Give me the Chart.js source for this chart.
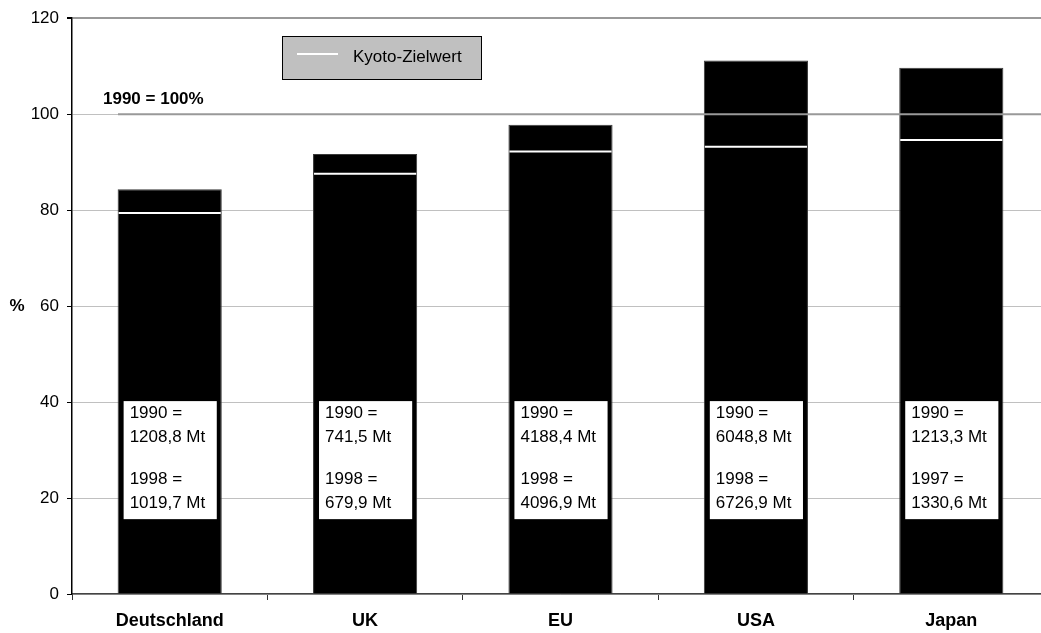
<!DOCTYPE html>
<html>
<head>
<meta charset="utf-8">
<script src="https://cdn.jsdelivr.net/npm/chart.js@4.4.1/dist/chart.umd.min.js"></script>
<style>
  html, body { margin: 0; padding: 0; background: #fff; overflow: hidden; }
  #wrap { width: 1049px; height: 633px; }
</style>
</head>
<body>
<div id="wrap"><canvas id="c" width="1049" height="633"></canvas></div>
<script>
// Regions shown on the x axis
const regions = ['Deutschland', 'UK', 'EU', 'USA', 'Japan'];

// CO2 emissions in Mt: base year 1990 and latest reported year
const baseYearLabel = ['1990 =', '1990 =', '1990 =', '1990 =', '1990 ='];
const emissions1990 = [1208.8, 741.5, 4188.4, 6048.8, 1213.3];
const latestYearLabel = ['1998 =', '1998 =', '1998 =', '1998 =', '1997 ='];
const emissionsLatest = [1019.7, 679.9, 4096.9, 6726.9, 1330.6];

// Kyoto target per region, % of 1990
const kyotoTarget = [79.4, 87.6, 92.2, 93.2, 94.6];

// Axis ticks
const yTicks = [0, 20, 40, 60, 80, 100, 120];
const baseline = 100;
const yUnit = '%';

// Bar height: latest emissions relative to 1990 (1990 = 100 %)
const relative = emissionsLatest.map((v, i) => v / emissions1990[i] * 100);

const fmt = v => v.toFixed(1).replace('.', ',') + ' Mt';

const FONT = "'Liberation Sans', Arial, Helvetica, sans-serif";
Chart.defaults.font.family = FONT;
Chart.defaults.color = '#000';

const BAR_PCT = 0.533;

// Draws the 100 % reference line, its caption, the value boxes, the unit and the legend
const overlay = {
  id: 'overlay',
  afterDatasetsDraw(chart) {
    const { ctx, chartArea, scales } = chart;
    const y = scales.y;
    const yBase = y.getPixelForValue(baseline);

    ctx.save();
    // reference line across the bars
    ctx.strokeStyle = '#999999';
    ctx.lineWidth = 2;
    ctx.beginPath();
    ctx.moveTo(118, yBase);
    ctx.lineTo(chartArea.right, yBase);
    ctx.stroke();

    ctx.fillStyle = '#000';
    ctx.font = 'bold 17px ' + FONT;
    ctx.textBaseline = 'middle';
    ctx.textAlign = 'left';
    ctx.fillText('1990 = ' + baseline + '%', 103, yBase - 15);

    // unit label of the value axis
    ctx.textAlign = 'center';
    ctx.fillText(yUnit, 17, y.getPixelForValue(60));
    ctx.textAlign = 'left';

    // value boxes inside each bar
    const bars = chart.getDatasetMeta(0).data;
    const boxTop = y.getPixelForValue(40.2);
    const boxBottom = y.getPixelForValue(15.6);
    ctx.font = '17px ' + FONT;
    bars.forEach((bar, i) => {
      const left = bar.x - bar.width / 2;
      const right = bar.x + bar.width / 2;
      ctx.fillStyle = '#fff';
      ctx.fillRect(left + 6, boxTop, (right - 5) - (left + 6), boxBottom - boxTop);
      ctx.fillStyle = '#000';
      const tx = left + 12;
      ctx.fillText(baseYearLabel[i], tx, boxTop + 12);
      ctx.fillText(fmt(emissions1990[i]), tx, boxTop + 36);
      ctx.fillText(latestYearLabel[i], tx, boxTop + 78);
      ctx.fillText(fmt(emissionsLatest[i]), tx, boxTop + 102);
    });

    // legend
    ctx.fillStyle = '#c0c0c0';
    ctx.fillRect(282, 36, 199, 43);
    ctx.strokeStyle = '#000';
    ctx.lineWidth = 1;
    ctx.strokeRect(282.5, 36.5, 199, 43);
    ctx.strokeStyle = '#fff';
    ctx.lineWidth = 2;
    ctx.beginPath();
    ctx.moveTo(297, 54);
    ctx.lineTo(338, 54);
    ctx.stroke();
    ctx.fillStyle = '#000';
    ctx.font = '17px ' + FONT;
    ctx.fillText(chart.data.datasets[1].label, 353, 57);
    ctx.restore();
  }
};

new Chart(document.getElementById('c'), {
  type: 'bar',
  data: {
    labels: regions,
    datasets: [
      {
        type: 'bar',
        label: 'Emissionen',
        data: relative,
        backgroundColor: '#000',
        borderColor: '#3a3a3a',
        borderWidth: 1,
        barPercentage: BAR_PCT,
        categoryPercentage: 1,
        order: 2
      },
      {
        type: 'line',
        label: 'Kyoto-Zielwert',
        data: kyotoTarget,
        showLine: false,
        pointStyle: 'line',
        borderColor: '#fff',
        backgroundColor: '#fff',
        borderWidth: 2,
        pointBorderWidth: 2,
        pointRadius: ctx => ctx.chart.scales.x.width / regions.length * BAR_PCT / 2 - 1,
        pointHoverRadius: ctx => ctx.chart.scales.x.width / regions.length * BAR_PCT / 2 - 1,
        order: 1
      }
    ]
  },
  options: {
    responsive: false,
    animation: false,
    layout: { padding: { top: 18, left: 0, right: 0, bottom: 0 } },
    plugins: {
      legend: { display: false },
      tooltip: { enabled: false }
    },
    scales: {
      x: {
        offset: true,
        grid: {
          offset: true,
          drawOnChartArea: false,
          drawTicks: true,
          tickLength: 6,
          color: '#333'
        },
        border: { color: '#444', width: 1.5 },
        ticks: {
          font: { size: 18, weight: 'bold' },
          color: '#000',
          padding: 10
        },
        afterFit(scale) { scale.height = 39; }
      },
      y: {
        min: 0,
        max: 120,
        afterBuildTicks(scale) { scale.ticks = yTicks.map(v => ({ value: v })); },
        grid: {
          color: c => (c.tick && c.tick.value === 120) ? '#999999' : '#c0c0c0',
          lineWidth: c => (c.tick && c.tick.value === 120) ? 2 : 1,
          tickLength: 5,
          tickColor: '#000',
          drawTicks: true
        },
        border: { color: '#000', width: 1.5 },
        ticks: {
          font: { size: 17 },
          color: '#000',
          padding: 8
        },
        afterFit(scale) { scale.width = 72; }
      }
    }
  },
  plugins: [overlay]
});
</script>
</body>
</html>
